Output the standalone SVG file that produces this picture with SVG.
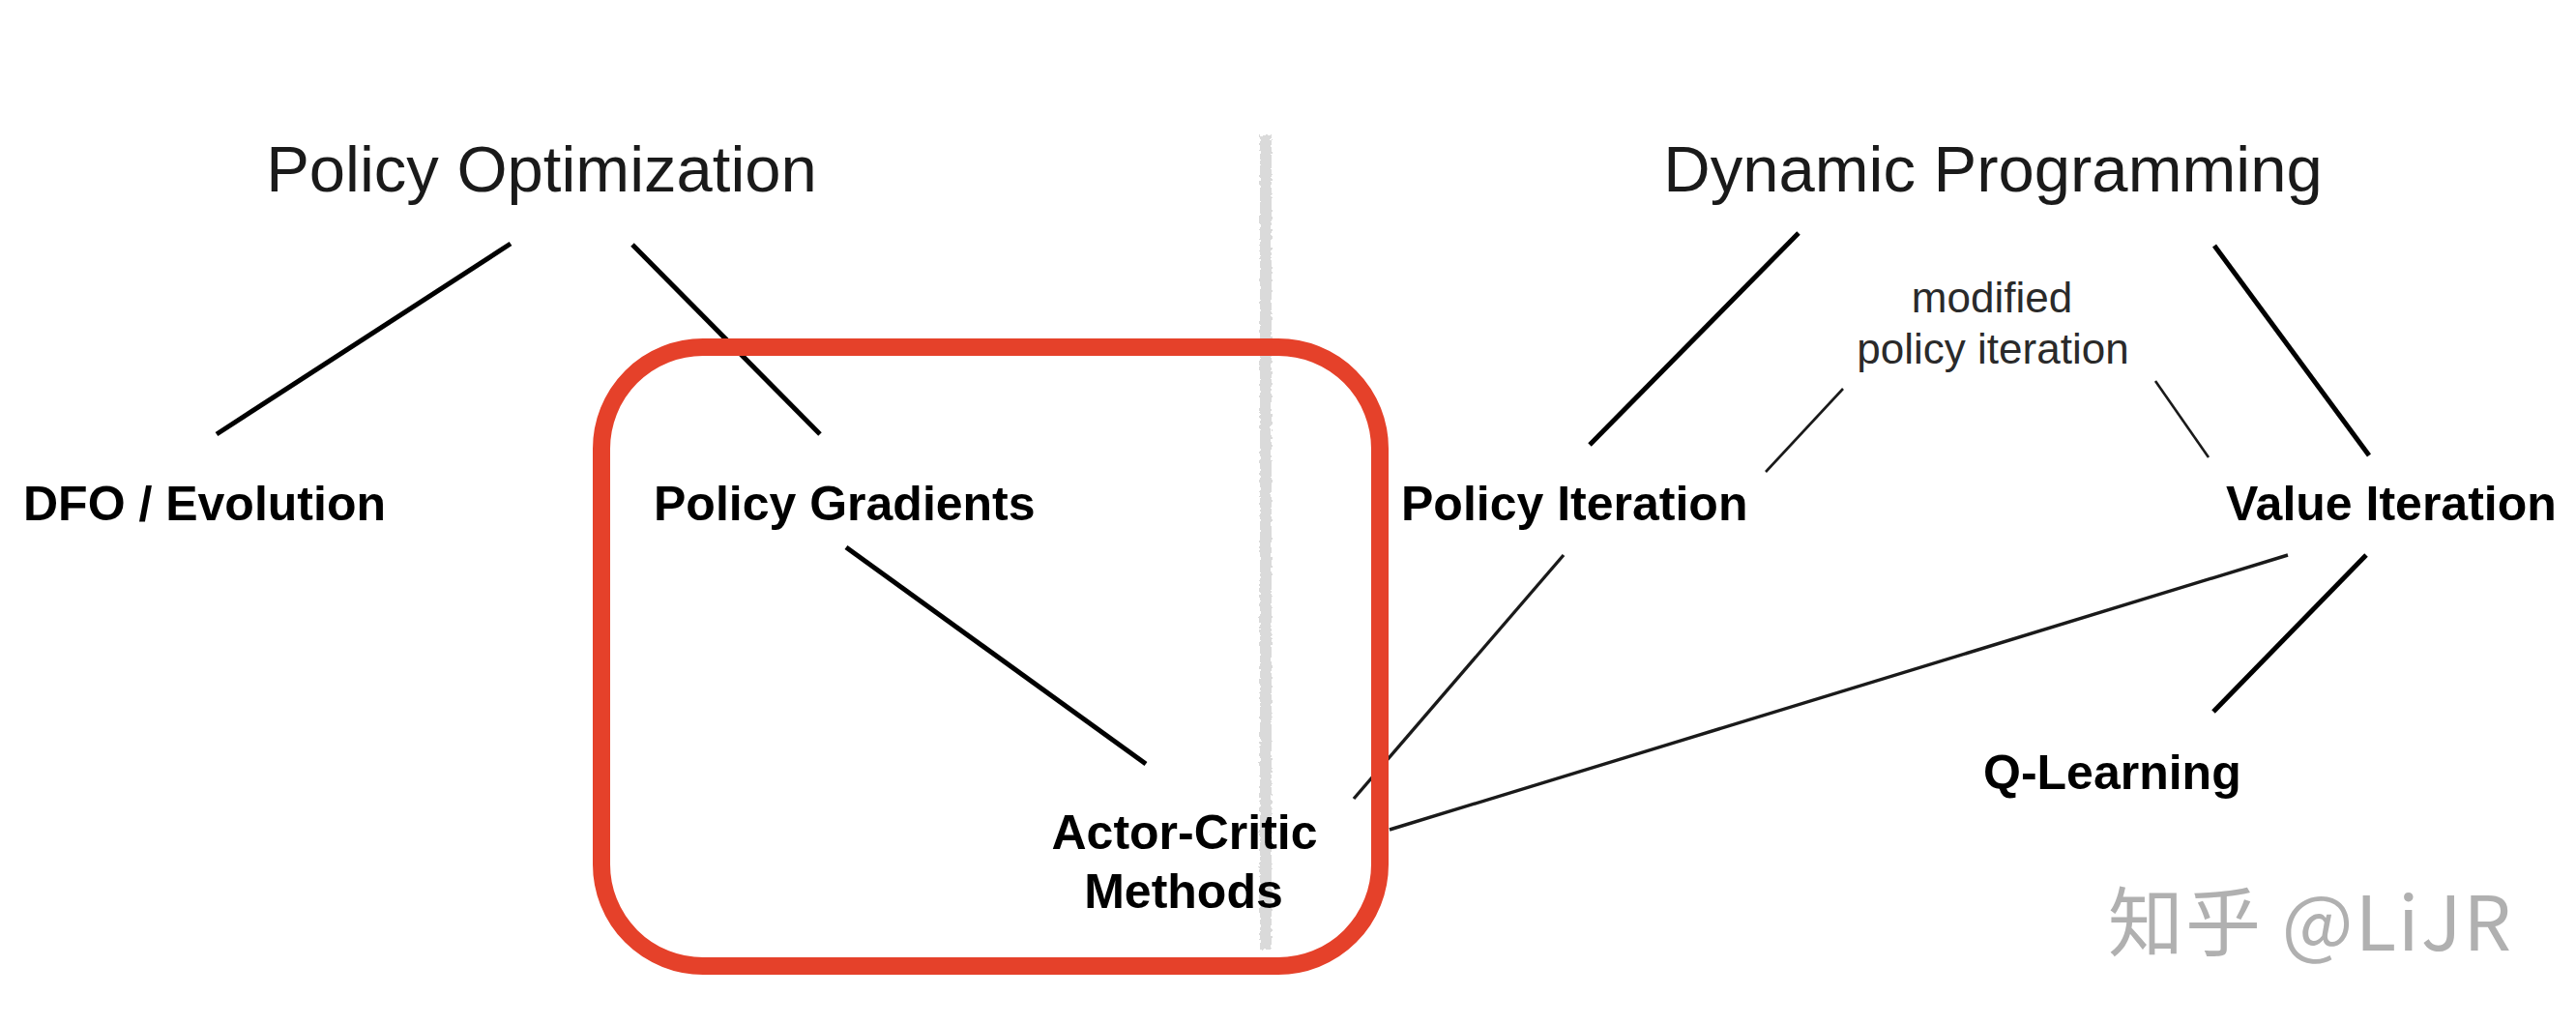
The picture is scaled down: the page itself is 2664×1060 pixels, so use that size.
<svg xmlns="http://www.w3.org/2000/svg" width="2664" height="1060" viewBox="0 0 2664 1060">
  <defs>
    <style>
      .title { font-family: "Liberation Sans", Arial, sans-serif; font-size: 67px; fill: #1a1a1a; text-anchor: middle; }
      .label { font-family: "Liberation Sans", Arial, sans-serif; font-size: 50px; font-weight: bold; fill: #000; }
      .note { font-family: "Liberation Sans", Arial, sans-serif; font-size: 44px; fill: #2a2a2a; text-anchor: middle; }
      .thick { stroke: #000; stroke-width: 5; stroke-linecap: butt; fill: none; }
      .thin { stroke: #1a1a1a; stroke-width: 2.6; fill: none; }
      .mid { stroke: #1a1a1a; stroke-width: 3.4; fill: none; }
      .wm { font-family: "Noto Sans CJK SC", "Noto Sans", sans-serif; font-size: 78px; fill: #b0b0b0; }
    </style>
    <filter id="rough" filterUnits="userSpaceOnUse" x="1280" y="120" width="60" height="880">
      <feTurbulence type="fractalNoise" baseFrequency="0.25" numOctaves="2" seed="3" result="n"/>
      <feDisplacementMap in="SourceGraphic" in2="n" scale="5" xChannelSelector="R" yChannelSelector="G"/>
    </filter>
  </defs>
  <rect width="2664" height="1060" fill="#fff"/>

  <g id="divider">
    <rect x="1303" y="140" width="12" height="842" fill="#dadada" filter="url(#rough)"/>
  </g>

  <g id="connectors">
    <line class="thick" x1="528" y1="252" x2="224" y2="449"/>
    <line class="thick" x1="654" y1="253" x2="848" y2="449"/>
    <line class="thick" x1="875" y1="566" x2="1185" y2="790"/>
    <line class="thick" x1="1860" y1="241" x2="1644" y2="460"/>
    <line class="thick" x1="2290" y1="254" x2="2450" y2="471"/>
    <line class="thin" x1="1906" y1="402" x2="1826" y2="488"/>
    <line class="thin" x1="2229" y1="394" x2="2284" y2="473"/>
    <line class="mid" x1="1617" y1="574" x2="1400" y2="826"/>
    <line class="mid" x1="2366" y1="574" x2="1437" y2="858"/>
    <line class="thick" x1="2447" y1="574" x2="2289" y2="736"/>
  </g>

  <g id="highlight">
    <rect x="622" y="359" width="805" height="640" rx="105" ry="105" fill="none" stroke="#e5412a" stroke-width="18"/>
  </g>

  <g id="policy-optimization">
    <text class="title" x="560" y="198">Policy Optimization</text>
  </g>
  <g id="dynamic-programming">
    <text class="title" x="2061" y="198">Dynamic Programming</text>
  </g>
  <g id="modified-policy-iteration">
    <text class="note" x="2060" y="323">modified</text>
    <text class="note" x="2061" y="376">policy iteration</text>
  </g>
  <g id="dfo-evolution">
    <text class="label" x="24" y="538">DFO / Evolution</text>
  </g>
  <g id="policy-gradients">
    <text class="label" x="676" y="538">Policy Gradients</text>
  </g>
  <g id="policy-iteration">
    <text class="label" x="1449" y="538">Policy Iteration</text>
  </g>
  <g id="value-iteration">
    <text class="label" x="2302" y="538">Value Iteration</text>
  </g>
  <g id="actor-critic">
    <text class="label" x="1225" y="878" text-anchor="middle">Actor-Critic</text>
    <text class="label" x="1224" y="939" text-anchor="middle">Methods</text>
  </g>
  <g id="q-learning">
    <text class="label" x="2051" y="816">Q-Learning</text>
  </g>

  <g id="watermark">
    <text class="wm" x="2180" y="983" textLength="417" lengthAdjust="spacing">知乎 @LiJR</text>
  </g>
</svg>
